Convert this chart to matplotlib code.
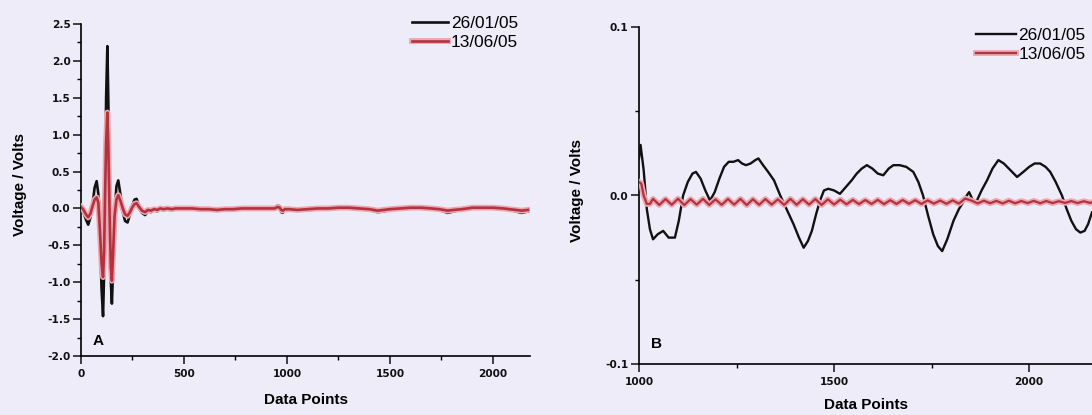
import matplotlib
matplotlib.use("Agg")
import matplotlib.pyplot as plt
import matplotlib.patheffects as pe
from matplotlib.ticker import MultipleLocator

plt.rcParams["font.family"] = ["Liberation Sans", "DejaVu Sans"]
plt.rcParams["axes.unicode_minus"] = False

# ---- data ---------------------------------------------------------------
labels = ["26/01/05", "13/06/05"]

# Panel A: full record (data points vs voltage)
a_x = [0, 12, 24, 35, 46, 56, 66, 76, 84, 92, 100, 107, 112, 117, 122, 128,
       133, 139, 145, 150, 156, 163, 172, 181, 192, 203, 214, 226, 238, 250,
       260, 270, 282, 296, 311, 325, 340, 355, 370, 385, 400, 420, 440, 460,
       500, 540, 580, 620, 660, 700, 740, 780, 820, 860, 900, 940, 955, 965,
       972, 980, 990, 1010, 1050, 1100, 1150, 1200, 1250, 1300, 1350, 1400,
       1440, 1470, 1500, 1550, 1600, 1650, 1700, 1740, 1780, 1810, 1850, 1900,
       1950, 2000, 2050, 2080, 2110, 2140, 2170]
a_jan = [0.02, -0.05, -0.15, -0.22, -0.12, 0.05, 0.28, 0.37, 0.20, -0.40,
         -1.10, -1.46, -0.90, 0.30, 1.50, 2.20, 1.40, -0.10, -1.00, -1.29,
         -0.80, -0.10, 0.30, 0.38, 0.18, -0.05, -0.17, -0.19, -0.08, 0.05,
         0.12, 0.13, 0.03, -0.06, -0.09, -0.04, -0.05, -0.02, -0.04, 0.00,
         -0.02, 0.01, -0.01, 0.01,
         0.01, 0.00, -0.01, -0.02, -0.03, -0.02, -0.01, 0.00, 0.01, 0.00,
         0.01, 0.01, 0.04, 0.03, -0.05, -0.06, -0.01, -0.02, -0.03, -0.02,
         0.00, 0.01, 0.02, 0.02, 0.01, -0.02, -0.05, -0.04, -0.02, 0.01,
         0.02, 0.02, 0.01, -0.02, -0.06, -0.04, -0.01, 0.02, 0.02, 0.02,
         0.01, -0.01, -0.04, -0.06, -0.04]
a_jun = [0.02, -0.02, -0.08, -0.12, -0.07, 0.03, 0.12, 0.15, 0.08, -0.30,
         -0.75, -0.93, -0.60, 0.20, 0.90, 1.30, 0.80, -0.10, -0.80, -0.98,
         -0.60, -0.10, 0.12, 0.18, 0.10, 0.00, -0.08, -0.10, -0.05, 0.02,
         0.06, 0.07, 0.02, -0.03, -0.05, -0.02, -0.03, -0.01, -0.02, 0.00,
         -0.01, 0.00, -0.01, 0.00,
         0.00, 0.00, -0.01, -0.01, -0.02, -0.01, -0.01, 0.00, 0.00, 0.00,
         0.00, 0.00, 0.02, 0.01, -0.02, -0.03, -0.01, -0.01, -0.02, -0.01,
         0.00, 0.00, 0.01, 0.01, 0.00, -0.01, -0.03, -0.02, -0.01, 0.00,
         0.01, 0.01, 0.00, -0.01, -0.03, -0.02, -0.01, 0.01, 0.01, 0.01,
         0.00, -0.01, -0.02, -0.03, -0.02]

# Panel B: zoom on the tail, points 1000 onwards
b_jan_x = [1000, 1004, 1012, 1020, 1028, 1036, 1048, 1062, 1076, 1092, 1102,
           1113, 1125, 1137, 1146, 1158, 1170, 1182, 1194, 1206, 1218, 1230,
           1242, 1254, 1264, 1274, 1286, 1298, 1306, 1318, 1331, 1346, 1362,
           1380, 1396, 1410, 1422, 1433, 1443, 1454, 1464, 1474, 1485, 1500,
           1515, 1530, 1545, 1558, 1571, 1584, 1598, 1612, 1626, 1640, 1652,
           1668, 1685, 1703, 1716, 1728, 1741, 1754, 1766, 1777, 1790, 1806,
           1820, 1831, 1840, 1846, 1852, 1858, 1866, 1878, 1892, 1906, 1921,
           1935, 1952, 1969, 1985, 2000, 2014, 2028, 2042, 2054, 2068, 2084,
           2096, 2108, 2120, 2131, 2142, 2151, 2161]
b_jan = [0.022, 0.030, 0.015, -0.008, -0.020, -0.026, -0.023, -0.021, -0.025,
         -0.025, -0.015, 0.000, 0.008, 0.013, 0.014, 0.010, 0.003, -0.003,
         0.002, 0.010, 0.017, 0.020, 0.020, 0.021, 0.019, 0.018, 0.019, 0.021,
         0.022, 0.018, 0.014, 0.009, 0.000, -0.009, -0.017, -0.025, -0.031,
         -0.027, -0.021, -0.011, -0.003, 0.003, 0.004, 0.003, 0.001, 0.005,
         0.009, 0.013, 0.016, 0.018, 0.016, 0.013, 0.012, 0.016, 0.018, 0.018,
         0.017, 0.014, 0.008, 0.000, -0.012, -0.023, -0.030, -0.033, -0.026,
         -0.015, -0.008, -0.004, 0.000, 0.002, -0.001, -0.004, -0.003, 0.003,
         0.009, 0.016, 0.021, 0.019, 0.015, 0.011, 0.014, 0.017, 0.019, 0.019,
         0.017, 0.014, 0.008, 0.000, -0.008, -0.015, -0.020, -0.022, -0.021,
         -0.017, -0.010]

b_jun_x = [1000, 1006, 1012, 1020, 1028] + list(range(1036, 2161, 16)) + [2161]
b_jun = [0.008, 0.007, 0.000, -0.005, -0.005,
         -0.0020, -0.0056, -0.0021, -0.0055, -0.0019, -0.0057, -0.0022, -0.0054,
         -0.0020, -0.0056, -0.0023, -0.0055, -0.0021, -0.0054, -0.0020, -0.0057,
         -0.0022, -0.0055, -0.0021, -0.0054, -0.0023, -0.0056, -0.0020, -0.0055,
         -0.0022, -0.0054, -0.0021, -0.0056, -0.0023, -0.0053, -0.0025, -0.0052,
         -0.0026, -0.0051, -0.0027, -0.0050, -0.0026, -0.0051, -0.0028, -0.0050,
         -0.0027, -0.0049, -0.0028, -0.0050, -0.0029, -0.0048, -0.0030, -0.0049,
         -0.0029, -0.0048, -0.0018, -0.0030, -0.0047, -0.0031, -0.0046, -0.0032,
         -0.0047, -0.0031, -0.0046, -0.0033, -0.0045, -0.0032, -0.0046, -0.0033,
         -0.0045, -0.0034, -0.0044, -0.0033, -0.0045, -0.0034, -0.0044,
         -0.0040]

# ---- styling ------------------------------------------------------------
W, H = 1092, 415
bg = "#edecf8"
black = "#111111"
red = "#b3323f"
halo = [pe.Stroke(linewidth=4.2, foreground="#eaa8b1"), pe.Normal()]

label_font = dict(fontsize=11, fontweight="bold")

fig = plt.figure(figsize=(W / 100, H / 100), dpi=100, facecolor=bg)


def frac(x0, y0, x1, y1):
    return [x0 / W, 1 - y1 / H, (x1 - x0) / W, (y1 - y0) / H]


def style(ax):
    ax.set_facecolor(bg)
    for s in ("top", "right"):
        ax.spines[s].set_visible(False)
    for s in ("left", "bottom"):
        ax.spines[s].set_linewidth(1.2)
    ax.tick_params(which="major", direction="out", length=5.6, width=1.1,
                   colors="#111111")
    ax.tick_params(which="minor", direction="out", length=2.9, width=1.0)
    ax.tick_params(axis="x", which="major", pad=3.5)
    ax.tick_params(axis="y", which="major", pad=2)
    for t in ax.get_xticklabels() + ax.get_yticklabels():
        t.set_fontfamily("DejaVu Sans")
        t.set_fontsize(7.6)
        t.set_fontweight("bold")


# Panel A
axA = fig.add_axes(frac(81, 24, 530, 356))
axA.plot(a_x, a_jan, color=black, lw=1.9, label=labels[0], zorder=3)
axA.plot(a_x, a_jun, color=red, lw=1.9, label=labels[1], zorder=4,
         path_effects=halo)
axA.set_xlim(0, 2180)
axA.set_ylim(-2.0, 2.5)
axA.xaxis.set_major_locator(MultipleLocator(500))
axA.xaxis.set_minor_locator(MultipleLocator(250))
axA.yaxis.set_major_locator(MultipleLocator(0.5))
axA.yaxis.set_minor_locator(MultipleLocator(0.25))
axA.yaxis.set_major_formatter(plt.FormatStrFormatter("%.1f"))
style(axA)
axA.set_xlabel("Data Points", **label_font)
axA.set_ylabel("Voltage / Volts", **label_font)
axA.xaxis.set_label_coords(0.5, -37 / 332, transform=axA.transAxes)
axA.yaxis.set_label_coords(-54 / 449, 0.518)
axA.text(0.026, 0.024, "A", transform=axA.transAxes, fontsize=11,
         fontweight="bold", ha="left", va="bottom")
axA.legend(loc="upper left", bbox_to_anchor=(412 / W, 1 - 16 / H),
           bbox_transform=fig.transFigure, frameon=False,
           fontsize=12.4, handlelength=2.1, handletextpad=0.15,
           borderpad=0, borderaxespad=0, labelspacing=0.22)

# Panel B
axB = fig.add_axes(frac(639, 27, 1092, 364))
axB.plot(b_jan_x, b_jan, color=black, lw=1.7, label=labels[0], zorder=3)
axB.plot(b_jun_x, b_jun, color=red, lw=1.6, label=labels[1], zorder=4,
         path_effects=halo)
axB.set_xlim(1000, 2161)
axB.set_ylim(-0.1, 0.1)
axB.xaxis.set_major_locator(MultipleLocator(500))
axB.xaxis.set_minor_locator(MultipleLocator(250))
axB.yaxis.set_major_locator(MultipleLocator(0.1))
axB.yaxis.set_minor_locator(MultipleLocator(0.05))
axB.yaxis.set_major_formatter(plt.FormatStrFormatter("%.1f"))
style(axB)
axB.set_xlabel("Data Points", **label_font)
axB.set_ylabel("Voltage / Volts", **label_font)
axB.xaxis.set_label_coords(0.5, -34 / 337, transform=axB.transAxes)
axB.yaxis.set_label_coords(-55 / 453, 0.516)
axB.text(0.026, 0.039, "B", transform=axB.transAxes, fontsize=11,
         fontweight="bold", ha="left", va="bottom")
axB.legend(loc="upper left", bbox_to_anchor=(976 / W, 1 - 28 / H),
           bbox_transform=fig.transFigure, frameon=False,
           fontsize=12.4, handlelength=2.3, handletextpad=0.15,
           borderpad=0, borderaxespad=0, labelspacing=0.22)

fig.savefig("out.png", dpi=100, facecolor=bg)
